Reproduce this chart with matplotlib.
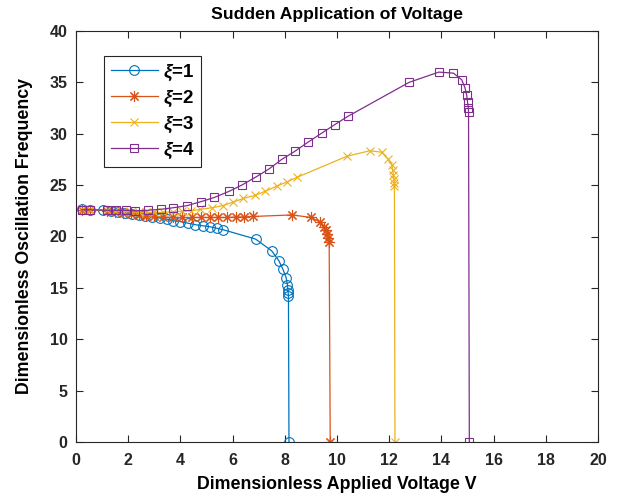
import matplotlib
matplotlib.use("Agg")
import matplotlib.pyplot as plt

plt.rcParams['font.family'] = ['Liberation Sans', 'DejaVu Sans']
plt.rcParams['font.weight'] = 'bold'
plt.rcParams['mathtext.fontset'] = 'custom'
plt.rcParams['mathtext.it'] = 'Liberation Sans:bold:italic'
plt.rcParams['mathtext.rm'] = 'Liberation Sans:bold'
plt.rcParams['mathtext.bf'] = 'Liberation Sans:bold'

# xi = 1
x1 = [0.22, 0.54, 1.03, 1.33, 1.6, 1.87, 2.13, 2.4, 2.65, 2.93, 3.2, 3.47, 3.73, 4.0, 4.28,
      4.57, 4.85, 5.13, 5.4, 5.65, 6.88, 7.5, 7.77, 7.93, 8.05, 8.1, 8.12, 8.13, 8.14, 8.16]
y1 = [22.65, 22.6, 22.55, 22.5, 22.4, 22.3, 22.2, 22.1, 22.0, 21.9, 21.8, 21.7, 21.55, 21.45, 21.3,
      21.15, 21.05, 20.95, 20.8, 20.65, 19.75, 18.6, 17.65, 16.8, 16.0, 15.3, 14.8, 14.5, 14.2, 0]
# xi = 2
x2 = [0.22, 0.54, 1.2, 1.5, 1.8, 2.1, 2.4, 2.7, 3.0, 3.35, 3.73, 4.08, 4.45, 4.8, 5.13, 5.45,
      5.8, 6.13, 6.45, 6.78, 8.28, 9.02, 9.35, 9.5, 9.58, 9.63, 9.67, 9.7, 9.74]
y2 = [22.6, 22.6, 22.5, 22.4, 22.3, 22.2, 22.1, 22.0, 21.95, 21.9, 21.85, 21.85, 21.85, 21.85,
      21.85, 21.85, 21.85, 21.9, 21.9, 21.95, 22.1, 21.85, 21.4, 20.9, 20.6, 20.2, 19.9, 19.5, 0]
# xi = 3
x3 = [0.22, 0.54, 1.2, 1.5, 1.8, 2.1, 2.4, 2.7, 3.0, 3.35, 3.7, 4.05, 4.4, 4.75, 5.2, 5.62,
      6.03, 6.41, 6.86, 7.24, 7.69, 8.07, 8.46, 10.37, 11.26, 11.71, 11.97, 12.1, 12.13, 12.16,
      12.18, 12.2, 12.2, 12.22]
y3 = [22.65, 22.6, 22.55, 22.5, 22.45, 22.4, 22.35, 22.35, 22.35, 22.35, 22.4, 22.45, 22.5,
      22.63, 22.8, 23.0, 23.35, 23.7, 24.0, 24.4, 24.9, 25.3, 25.75, 27.8, 28.35, 28.2, 27.5,
      27.0, 26.5, 26.0, 25.6, 25.2, 24.9, 0]
# xi = 4
x4 = [0.22, 0.54, 1.2, 1.55, 1.9, 2.25, 2.75, 3.25, 3.73, 4.25, 4.8, 5.3, 5.87, 6.35, 6.9,
      7.41, 7.88, 8.39, 8.9, 9.41, 9.92, 10.42, 12.76, 13.9, 14.46, 14.78, 14.9, 14.97, 15.0,
      15.03, 15.04, 15.07]
y4 = [22.6, 22.6, 22.55, 22.55, 22.55, 22.5, 22.55, 22.65, 22.8, 23.0, 23.4, 23.8, 24.4, 25.0,
      25.8, 26.6, 27.5, 28.3, 29.2, 30.05, 30.9, 31.7, 35.0, 36.0, 35.9, 35.25, 34.5, 33.75,
      33.1, 32.55, 32.1, 0]

labels = [r'$\xi$=1', r'$\xi$=2', r'$\xi$=3', r'$\xi$=4']
colors = ['#0072BD', '#D95319', '#EDB120', '#7E2F8E']
markers = ['o', (8, 2, 0), 'x', 's']
msizes = [7, 8, 6, 6]

fig = plt.figure(figsize=(6.2, 4.96), dpi=100)
ax = fig.add_axes([76/620, 54/496, 522/620, 411/496])

for xs, ys, lab, c, m, ms in zip([x1, x2, x3, x4], [y1, y2, y3, y4], labels, colors, markers, msizes):
    ax.plot(xs, ys, color=c, marker=m, markersize=ms, markerfacecolor='none',
            markeredgecolor=c, linewidth=0.9, markeredgewidth=0.8, label=lab)

ax.set_xlim(0, 20)
ax.set_ylim(0, 40)
ax.set_xticks(range(0, 21, 2))
ax.set_yticks(range(0, 41, 5))
ax.tick_params(direction='in', top=True, right=True, length=5, width=0.8,
               labelsize=11.5, colors='#262626')
ax.tick_params(axis='x', pad=8)
ax.tick_params(axis='y', pad=6)
for lbl in ax.get_xticklabels() + ax.get_yticklabels():
    lbl.set_fontweight('bold')
for sp in ax.spines.values():
    sp.set_color('#262626')
    sp.set_linewidth(0.8)

ax.set_title('Sudden Application of Voltage', fontsize=12.6, fontweight='bold', pad=9)
ax.set_xlabel('Dimensionless Applied Voltage V', fontsize=12.8, fontweight='bold', labelpad=6)
ax.set_ylabel('Dimensionless Oscillation Frequency', fontsize=12.8, fontweight='bold', labelpad=12)

leg = ax.legend(loc='upper left', bbox_to_anchor=(28/522, 1 - 25/411), borderaxespad=0,
                fancybox=False, edgecolor='#262626', framealpha=1,
                prop={'weight': 'bold', 'size': 13.5},
                handlelength=2.55, borderpad=0.35, labelspacing=0.3, handletextpad=0.25)
leg.get_frame().set_linewidth(0.8)

fig.savefig('out.png', dpi=100)
